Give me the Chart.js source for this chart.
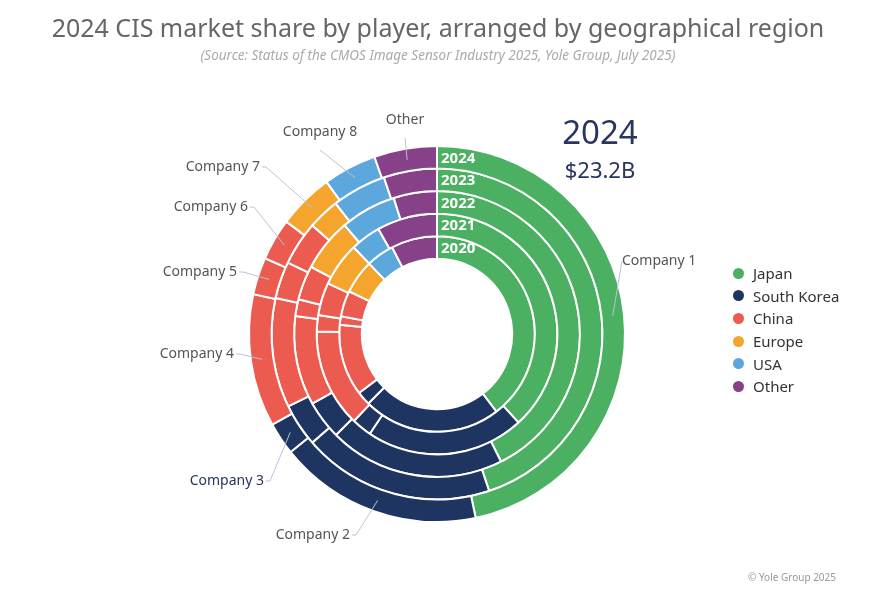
<!DOCTYPE html>
<html>
<head>
<meta charset="utf-8">
<script src="https://cdn.jsdelivr.net/npm/chart.js@4.4.0/dist/chart.umd.min.js"></script>
<style>
  body { margin: 0; background: #fff; font-family: "Noto Sans", sans-serif; }
  #wrap { position: relative; width: 890px; height: 597px; overflow: hidden; }
  #chart { position: absolute; left: 0; top: 0; }
  .abs { position: absolute; white-space: nowrap; }
  #title { left: 0; width: 876px; top: 10px; text-align: center; font-size: 25px; color: #666; }
  #sub { left: 0; width: 876px; top: 46px; text-align: center; font-size: 13.5px; color: #aaa; font-style: italic; }
  #big { left: 540px; top: 112px; width: 120px; text-align: center; color: #27355f; font-size: 33px; line-height: 40px; }
  #total { left: 540px; top: 154px; width: 120px; text-align: center; color: #27355f; font-size: 22px; }
  #legend { left: 733px; top: 262px; font-size: 15px; color: #333; }
  #legend div { height: 22.6px; display: flex; align-items: center; }
  #legend span { display: inline-block; width: 11px; height: 11px; border-radius: 50%; margin-right: 9px; }
  #copy { left: 748px; top: 570px; font-size: 10px; color: #999; }
</style>
</head>
<body>
<div id="wrap">
  <canvas id="chart" width="890" height="597"></canvas>
  <div class="abs" id="title">2024 CIS market share by player, arranged by geographical region</div>
  <div class="abs" id="sub">(Source: Status of the CMOS Image Sensor Industry 2025, Yole Group, July 2025)</div>
  <div class="abs" id="big">2024</div>
  <div class="abs" id="total">$23.2B</div>
  <div class="abs" id="legend"></div>
  <div class="abs" id="copy">© Yole Group 2025</div>
</div>
<script>
const companies = ['Company 1', 'Company 2', 'Company 3', 'Company 4', 'Company 5', 'Company 6', 'Company 7', 'Company 8', 'Other'];
const companyRegion = ['Japan', 'South Korea', 'South Korea', 'China', 'China', 'China', 'Europe', 'USA', 'Other'];
const years = ['2024', '2023', '2022', '2021', '2020'];

// market share (%) per company, outer ring first
const share2024 = [46.7, 17.5, 2.8, 11.4, 3.2, 3.6, 4.8, 4.6, 5.4];
const share2023 = [44.9, 18.7, 4.2, 10.7, 3.6, 4.3, 3.1, 5.3, 5.2];
const share2022 = [42.6, 19.9, 4.4, 10.1, 1.9, 3.9, 6.0, 6.3, 4.9];
const share2021 = [38.2, 21.3, 2.7, 13.2, 2.2, 4.4, 5.9, 4.1, 8.1];
const share2020 = [39.6, 22.8, 2.3, 11.8, 1.4, 4.3, 5.6, 4.6, 7.6];

const regions = ['Japan', 'South Korea', 'China', 'Europe', 'USA', 'Other'];
const regionColors = {
    'Japan': '#4cb062',
    'South Korea': '#1e3461',
    'China': '#ec5b50',
    'Europe': '#f5a42d',
    'USA': '#5ca7db',
    'Other': '#874189'
};

// callout label placement (text anchor) for each company
const calloutPos = [
    { x: 622, y: 261, align: 'left', bend: null },
    { x: 356, y: 535, align: 'right', bend: null },
    { x: 270, y: 481, align: 'right', bend: null },
    { x: 240, y: 354, align: 'right', bend: null },
    { x: 243, y: 272, align: 'right', bend: null },
    { x: 254, y: 207, align: 'right', bend: null },
    { x: 266, y: 167, align: 'right', bend: null },
    { x: 320, y: 140, align: 'center', bend: null },
    { x: 405, y: 128, align: 'center', bend: null }
];

const legendEl = document.getElementById('legend');
regions.forEach(r => {
    legendEl.innerHTML += '<div><span style="background:' + regionColors[r] + '"></span>' + r + '</div>';
});

const colors = companyRegion.map(r => regionColors[r]);
const allShares = [share2024, share2023, share2022, share2021, share2020];

const calloutPlugin = {
    id: 'callouts',
    afterDatasetsDraw(chart) {
        const ctx = chart.ctx;
        const outer = chart.getDatasetMeta(0).data;
        ctx.save();
        ctx.font = '14px "Noto Sans", sans-serif';
        ctx.textBaseline = 'middle';
        outer.forEach((arc, i) => {
            const p = arc.getProps(['x', 'y', 'startAngle', 'endAngle', 'innerRadius', 'outerRadius'], true);
            const mid = (p.startAngle + p.endAngle) / 2;
            const r = (p.innerRadius + p.outerRadius) / 2;
            const ax = p.x + Math.cos(mid) * r;
            const ay = p.y + Math.sin(mid) * r;
            const pos = calloutPos[i];
            let lx = pos.x, ly = pos.y;
            if (pos.align === 'center') ly = pos.y + 10;
            ctx.strokeStyle = '#b8c2dc';
            ctx.lineWidth = 1;
            ctx.beginPath();
            ctx.moveTo(ax, ay);
            ctx.lineTo(lx, ly);
            if (pos.align === 'right') ctx.lineTo(lx - 4, ly);
            ctx.stroke();
            ctx.fillStyle = i === 2 ? '#27355f' : '#555';
            if (pos.align === 'right') { ctx.textAlign = 'right'; ctx.fillText(companies[i], lx - 6, ly); }
            else if (pos.align === 'left') { ctx.textAlign = 'left'; ctx.fillText(companies[i], lx, ly); }
            else { ctx.textAlign = 'center'; ctx.fillText(companies[i], lx, pos.y - 8); }
        });
        // year labels on each ring
        ctx.font = 'bold 15px "Noto Sans", sans-serif';
        ctx.fillStyle = '#fff';
        ctx.textAlign = 'left';
        years.forEach((y, d) => {
            const a = chart.getDatasetMeta(d).data[0];
            const p = a.getProps(['x', 'y', 'innerRadius', 'outerRadius'], true);
            ctx.fillText(y, p.x + 4, p.y - (p.innerRadius + p.outerRadius) / 2 + 1);
        });
        ctx.restore();
    }
};

new Chart(document.getElementById('chart'), {
    type: 'doughnut',
    data: {
        labels: companies,
        datasets: allShares.map((s, i) => ({
            label: years[i],
            data: s,
            backgroundColor: colors,
            borderColor: '#fff',
            borderWidth: 2
        }))
    },
    options: {
        responsive: false,
        animation: false,
        cutout: '40%',
        layout: { padding: { left: 248, right: 264, top: 145, bottom: 74 } },
        plugins: { legend: { display: false }, tooltip: { enabled: false } }
    },
    plugins: [calloutPlugin]
});
</script>
</body>
</html>
